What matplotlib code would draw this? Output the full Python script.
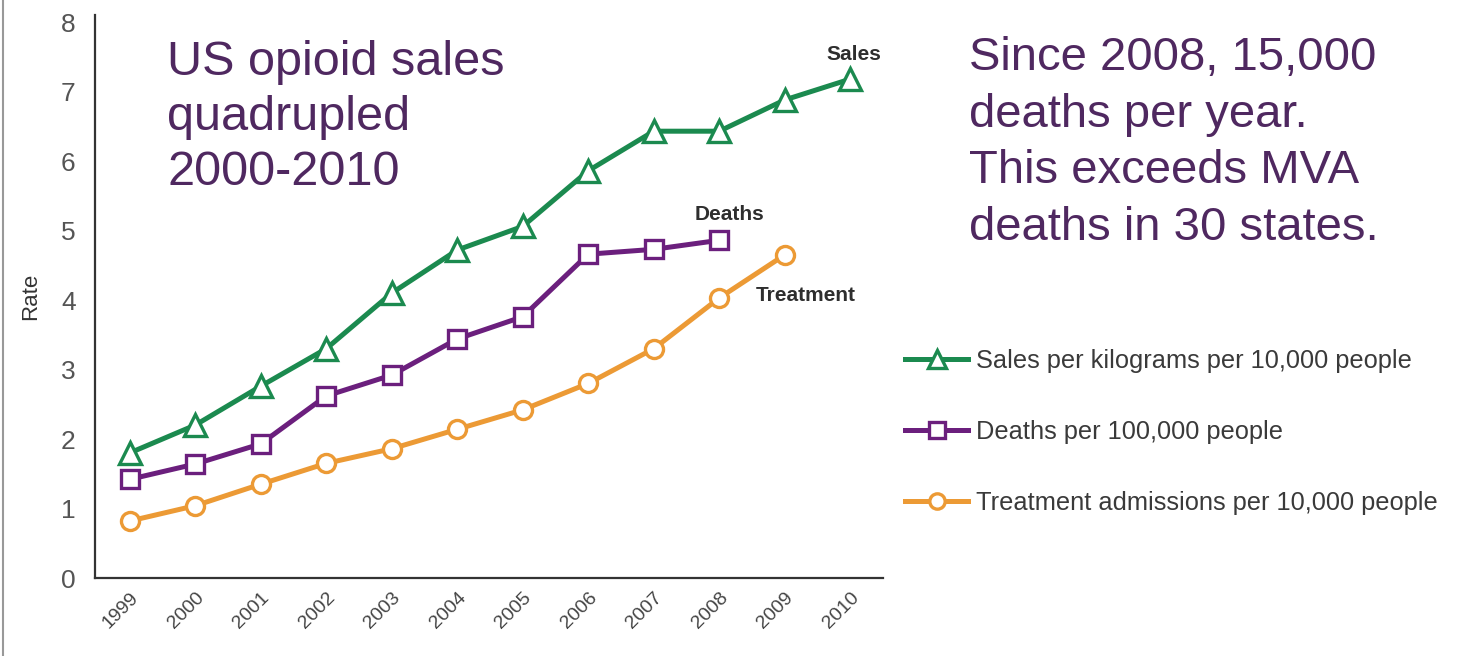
import matplotlib.pyplot as plt
from matplotlib.lines import Line2D

years = [1999, 2000, 2001, 2002, 2003, 2004, 2005, 2006, 2007, 2008, 2009, 2010]
sales = [1.8, 2.2, 2.76, 3.3, 4.1, 4.72, 5.06, 5.86, 6.43, 6.43, 6.88, 7.18]
deaths = [1.42, 1.64, 1.93, 2.62, 2.92, 3.44, 3.76, 4.66, 4.73, 4.86]
treatment = [0.82, 1.04, 1.35, 1.65, 1.86, 2.14, 2.42, 2.8, 3.3, 4.03, 4.65]

legend_labels = ["Sales per kilograms per 10,000 people",
                 "Deaths per 100,000 people",
                 "Treatment admissions per 10,000 people"]

GREEN = "#1b8a4f"
PURPLE = "#6b1f7d"
ORANGE = "#ec9a35"
TEXT_PURPLE = "#4f2860"
SANS = ["Liberation Sans", "DejaVu Sans"]

fig = plt.figure(figsize=(14.68, 6.56), dpi=100)
ax = fig.add_axes([0.0647, 0.1189, 0.5368, 0.858])

style = dict(lw=3.6, markerfacecolor="white", mew=2.4)
l1, = ax.plot(years, sales, color=GREEN, marker="^", ms=16, **style)
l2, = ax.plot(years[:len(deaths)], deaths, color=PURPLE, marker="s", ms=13, **style)
l3, = ax.plot(years[:len(treatment)], treatment, color=ORANGE, marker="o", ms=13, **style)

ax.set_xlim(1998.47, 2010.5)
ax.set_ylim(0, 8.1)
ax.set_yticks(range(0, 9))
ax.set_xticks(years)
ax.set_xticklabels([str(y) for y in years], rotation=45, ha="right",
                   rotation_mode="anchor", fontsize=14, color="#444444",
                   family=SANS)
for t in ax.get_yticklabels():
    t.set_fontsize(19)
    t.set_color("#555555")
    t.set_family(SANS)
ax.tick_params(length=0, pad=14)
ax.tick_params(axis="x", pad=8)
for side in ["top", "right"]:
    ax.spines[side].set_visible(False)
for side in ["left", "bottom"]:
    ax.spines[side].set_color("#333333")
    ax.spines[side].set_linewidth(1.6)

ax.set_ylabel("Rate", fontsize=16, color="#333333", family=SANS, labelpad=14)

# series names next to the lines
lab = dict(fontsize=15, fontweight="bold", color="#2e2e2e", family=SANS)
ax.text(2010.05, 7.4, "Sales", ha="center", va="bottom", **lab)
ax.text(2008.15, 5.1, "Deaths", ha="center", va="bottom", **lab)
ax.text(2008.55, 3.93, "Treatment", ha="left", va="bottom", **lab)

fig.legend([l1, l2, l3], legend_labels, loc="upper left",
           bbox_to_anchor=(882 / 1468, 1 - 326 / 656), frameon=False,
           prop={"family": SANS, "size": 18.3}, labelcolor="#3a3a3a",
           handlelength=2.5, handletextpad=0.3, labelspacing=1.85,
           markerscale=0.85)

fig.text(167 / 1468, 1 - 40 / 656, "US opioid sales\nquadrupled\n2000-2010",
         fontsize=35, color=TEXT_PURPLE, family=SANS,
         va="top", ha="left", linespacing=1.28)
fig.text(969 / 1468, 1 - 36 / 656,
         "Since 2008, 15,000\ndeaths per year.\nThis exceeds MVA\ndeaths in 30 states.",
         fontsize=34, color=TEXT_PURPLE, family=SANS,
         va="top", ha="left", linespacing=1.37)

# thin frame line on the left edge
fig.add_artist(Line2D([3 / 1468, 3 / 1468], [0, 1], transform=fig.transFigure,
                      color="#999999", lw=1.5))

fig.savefig("out.png", dpi=100)
